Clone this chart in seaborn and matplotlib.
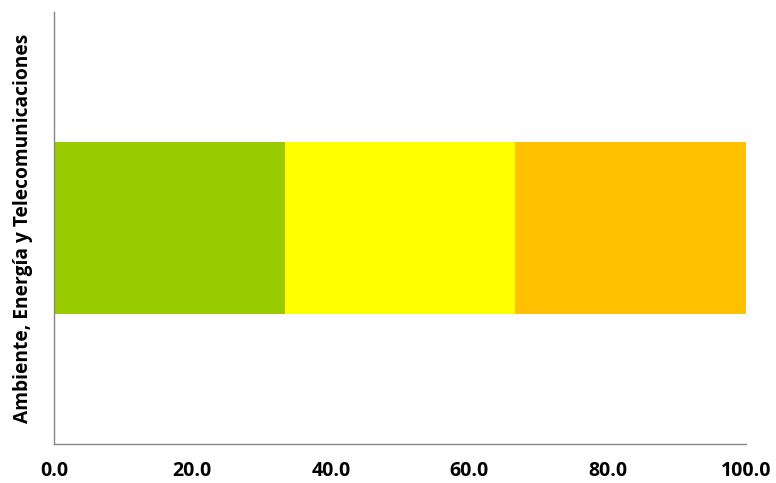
import numpy as np
import pandas as pd
import seaborn as sns
import matplotlib.pyplot as plt

categories = ["Ambiente, Energía y Telecomunicaciones"]
segment_values = [33.33, 33.33, 33.34]
segment_colors = ["#99CC00", "#FFFF00", "#FFC000"]
x_ticks = [0, 20, 40, 60, 80, 100]

sns.set_style("white")
plt.rcParams["font.family"] = ["Open Sans", "DejaVu Sans"]

fig = plt.figure(figsize=(7.76, 4.83), dpi=100)
ax = fig.add_axes([0.0696, 0.0807, 0.8917, 0.8943])

# stacked bars: draw cumulative totals from the largest down
cumulative = np.cumsum(segment_values)
for total, color in reversed(list(zip(cumulative, segment_colors))):
    df = pd.DataFrame({"category": categories, "value": [total]})
    sns.barplot(data=df, x="value", y="category", orient="h", color=color,
                width=0.4, saturation=1, ax=ax, linewidth=0)

ax.set_xlim(0, 100)
ax.set_ylim(0.5, -0.5)
ax.set_xticks(x_ticks)
ax.set_xticklabels([f"{t:.1f}" for t in x_ticks], fontsize=14, fontweight="bold", color="black")
ax.set_yticks([0])
ax.set_yticklabels(categories, rotation=90, va="center", fontsize=13.8, fontweight="bold", color="black")
ax.set_xlabel("")
ax.set_ylabel("")

for side in ["top", "right"]:
    ax.spines[side].set_visible(False)
for side in ["left", "bottom"]:
    ax.spines[side].set_color("#868686")
    ax.spines[side].set_linewidth(1)
ax.tick_params(axis="x", direction="out", length=6, color="#868686", width=1, pad=6)
ax.tick_params(axis="y", length=0, pad=15)

fig.savefig("out.png", dpi=100)
